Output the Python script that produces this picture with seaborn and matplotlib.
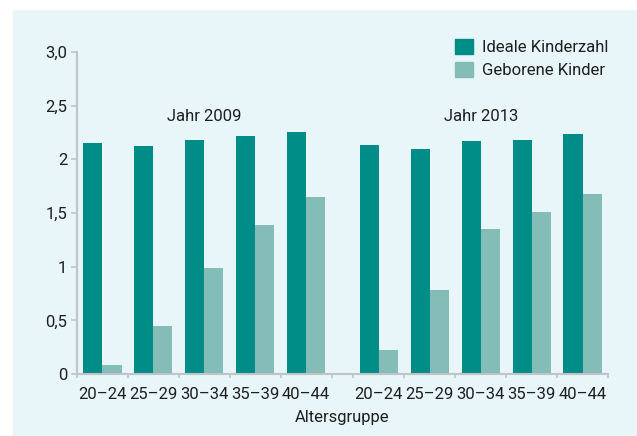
import pandas as pd
import matplotlib.pyplot as plt
import matplotlib.patches as mpatches
import seaborn as sns

# Data
ages = ['20–24', '25–29', '30–34', '35–39', '40–44']
years = ['Jahr 2009', 'Jahr 2013']
series = ['Ideale Kinderzahl', 'Geborene Kinder']
ideal_2009 = [2.15, 2.12, 2.18, 2.22, 2.25]
born_2009 = [0.08, 0.45, 0.99, 1.39, 1.65]
ideal_2013 = [2.13, 2.10, 2.17, 2.18, 2.24]
born_2013 = [0.22, 0.78, 1.35, 1.51, 1.68]
yticks = [0, 0.5, 1, 1.5, 2, 2.5, 3.0]
ytick_labels = ['0', '0,5', '1', '1,5', '2', '2,5', '3,0']

dark = '#008c87'
light = '#84bdb8'
bg = '#e8f6f9'
txt = '#1e1e1e'
spine_col = '#c0c4c6'
fs = 12

sns.set_style('ticks')
plt.rcParams['font.family'] = ['Roboto', 'DejaVu Sans']

gap = 0.43
rows = []
centers = []
bounds = []
for g, (ideal, born) in enumerate([(ideal_2009, born_2009), (ideal_2013, born_2013)]):
    start = g * (len(ages) + gap)
    for i, age in enumerate(ages):
        pos = start + i + 0.5
        centers.append(pos)
        rows.append({'pos': pos, 'value': ideal[i], 'serie': series[0]})
        rows.append({'pos': pos, 'value': born[i], 'serie': series[1]})
    bounds += [start + i for i in range(len(ages) + 1)]
df = pd.DataFrame(rows)

fig = plt.figure(figsize=(6.37, 4.36), dpi=100)
fig.patch.set_facecolor('white')
fig.add_artist(mpatches.Rectangle((13 / 637, 0), 1 - 13 / 637, 426 / 436,
                                  transform=fig.transFigure, color=bg, zorder=-10))
ax = fig.add_axes([77 / 637, 62 / 436, 531 / 637, 322 / 436])
ax.set_facecolor(bg)

sns.barplot(data=df, x='pos', y='value', hue='serie', native_scale=True,
            palette=[dark, light], width=0.75, saturation=1, errorbar=None,
            legend=False, linewidth=0, ax=ax)

ax.set_xlim(0, 2 * len(ages) + gap)
ax.set_ylim(0, 3.0)
ax.set_yticks(yticks)
ax.set_yticklabels(ytick_labels)
ax.set_xticks(centers)
ax.set_xticklabels(ages * 2)
ax.set_xticks(bounds, minor=True)
ax.tick_params(axis='x', which='major', length=0, pad=9, labelsize=fs, labelcolor=txt)
ax.tick_params(axis='x', which='minor', length=3, width=1.2, color=spine_col, direction='out')
ax.tick_params(axis='y', length=4.5, width=1.2, color=spine_col, pad=2.5, labelsize=fs, labelcolor=txt)

for s in ['top', 'right']:
    ax.spines[s].set_visible(False)
for s in ['left', 'bottom']:
    ax.spines[s].set_color(spine_col)
    ax.spines[s].set_linewidth(1.5)

ax.set_xlabel('Altersgruppe', fontsize=fs, color=txt, labelpad=6)
ax.set_ylabel('')

for g, year in enumerate(years):
    ax.text(g * (len(ages) + gap) + len(ages) / 2, 2.40, year, ha='center', va='center',
            fontsize=fs, color=txt)

handles = [mpatches.Patch(color=dark, label=series[0]),
           mpatches.Patch(color=light, label=series[1])]
leg = ax.legend(handles=handles, loc='upper right', bbox_to_anchor=(1.0, 1.04),
                frameon=False, fontsize=fs, handlelength=1.1, handleheight=1.0,
                handletextpad=0.5, labelspacing=0.42, borderpad=0, borderaxespad=0)
for t in leg.get_texts():
    t.set_color(txt)

plt.savefig('out.png', dpi=100)
